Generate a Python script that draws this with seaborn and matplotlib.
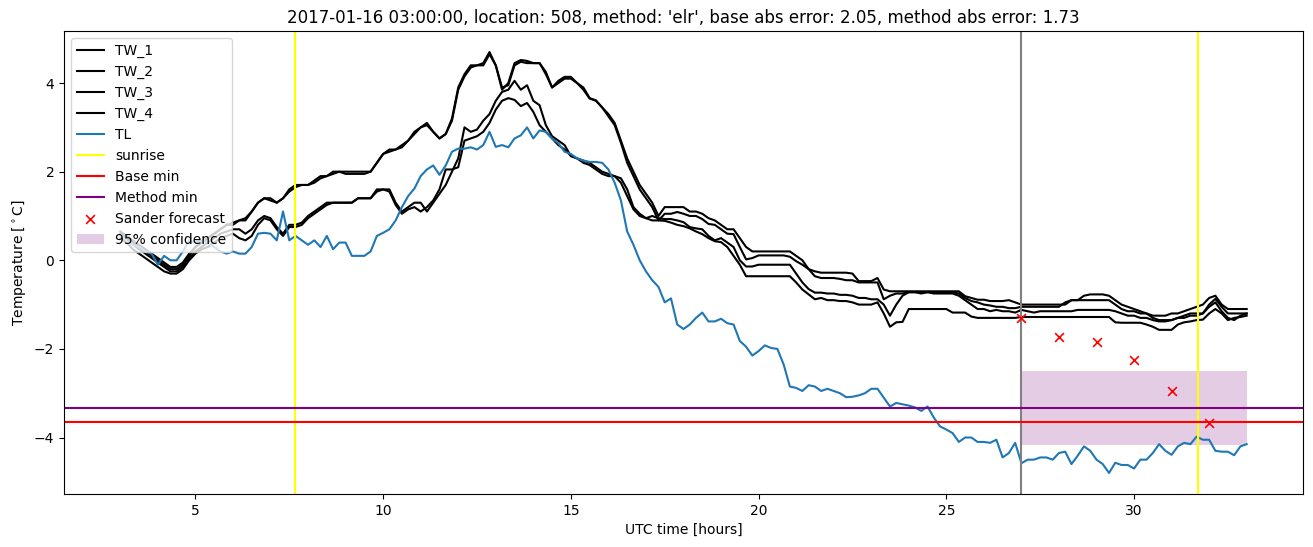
import numpy as np
import matplotlib
matplotlib.use("Agg")
import matplotlib.pyplot as plt
import seaborn as sns

# ---- data (10-minute steps from 03:00 to 33:00 UTC hours) ----
start_hour = 3.0
step_hours = 1.0 / 6.0

TW_1 = [
    0.6, 0.5, 0.4, 0.3, 0.2, 0.1,          # 3
    0.0, -0.1, -0.2, -0.2, -0.1, 0.1,      # 4
    0.3, 0.4, 0.5, 0.6, 0.7, 0.8,          # 5
    0.8, 0.9, 0.9, 1.1, 1.3, 1.4,          # 6
    1.4, 1.3, 1.4, 1.6, 1.7, 1.7,          # 7
    1.7, 1.8, 1.9, 1.9, 2.0, 2.0,          # 8
    2.0, 2.0, 2.0, 2.0, 2.0, 2.2,          # 9
    2.4, 2.5, 2.5, 2.6, 2.7, 2.9,          # 10
    3.0, 3.1, 2.9, 2.75, 2.85, 3.2,        # 11
    3.9, 4.2, 4.4, 4.4, 4.45, 4.7,         # 12
    4.4, 3.85, 4.0, 4.45, 4.52, 4.5,       # 13
    4.45, 4.45, 4.2, 3.9, 4.05, 4.14,      # 14
    4.14, 4.0, 3.9, 3.66, 3.61, 3.45,      # 15
    3.3, 3.1, 2.7, 2.3, 2.0, 1.7,          # 16
    1.5, 1.3, 1.0, 1.2, 1.2, 1.2,          # 17
    1.2, 1.1, 1.1, 1.05, 0.95, 0.9,        # 18
    0.8, 0.7, 0.7, 0.5, 0.3, 0.2,          # 19
    0.2, 0.2, 0.2, 0.2, 0.2, 0.2,          # 20
    0.1, 0.0, -0.2, -0.25, -0.28, -0.28,   # 21
    -0.28, -0.28, -0.28, -0.3, -0.47, -0.47,  # 22
    -0.47, -0.4, -0.66, -0.7, -0.7, -0.7,  # 23
    -0.7, -0.7, -0.7, -0.7, -0.7, -0.7,    # 24
    -0.7, -0.7, -0.7, -0.81, -0.85, -0.89, # 25
    -0.89, -0.92, -0.92, -0.92, -0.9, -0.95,  # 26
    -1.0, -1.0, -1.0, -1.0, -1.0, -1.0,    # 27
    -1.0, -1.0, -0.9, -0.9, -0.8, -0.77,   # 28
    -0.77, -0.77, -0.8, -0.9, -1.0, -1.05, # 29
    -1.1, -1.15, -1.2, -1.25, -1.25, -1.25,  # 30
    -1.2, -1.2, -1.15, -1.1, -1.05, -1.0,  # 31
    -0.85, -0.8, -1.0, -1.1, -1.1, -1.1,   # 32
    -1.1,                                   # 33
]

TW_2 = [
    0.65, 0.55, 0.45, 0.35, 0.25, 0.15,
    0.05, -0.05, -0.15, -0.15, -0.05, 0.15,
    0.3, 0.4, 0.5, 0.6, 0.7, 0.8,
    0.85, 0.9, 0.95, 1.1, 1.3, 1.4,
    1.35, 1.3, 1.4, 1.55, 1.65, 1.7,
    1.7, 1.75, 1.85, 1.9, 1.95, 2.0,
    1.95, 1.95, 1.95, 1.95, 2.0, 2.2,
    2.4, 2.45, 2.5, 2.55, 2.7, 2.85,
    3.0, 3.05, 2.9, 2.75, 2.85, 3.15,
    3.85, 4.15, 4.35, 4.4, 4.4, 4.65,
    4.4, 3.9, 3.95, 4.4, 4.48, 4.45,
    4.45, 4.45, 4.25, 3.9, 4.0, 4.1,
    4.1, 4.0, 3.85, 3.65, 3.6, 3.45,
    3.25, 3.05, 2.65, 2.2, 1.9, 1.6,
    1.4, 1.2, 0.9, 1.05, 1.05, 1.09,
    1.05, 1.0, 1.0, 0.93, 0.82, 0.8,
    0.7, 0.6, 0.59, 0.3, 0.02, 0.05,
    0.11, 0.11, 0.11, 0.11, 0.11, 0.08,
    -0.02, -0.1, -0.2, -0.36, -0.4, -0.4,
    -0.4, -0.42, -0.45, -0.45, -0.5, -0.5,
    -0.5, -0.5, -0.88, -0.8, -0.75, -0.75,
    -0.72, -0.72, -0.72, -0.72, -0.72, -0.72,
    -0.72, -0.72, -0.75, -0.85, -0.92, -0.95,
    -1.0, -1.02, -1.05, -1.05, -1.08, -1.08,
    -1.05, -1.05, -1.05, -1.05, -1.05, -1.05,
    -1.05, -0.95, -0.9, -0.9, -0.9, -0.9,
    -0.9, -0.9, -0.9, -1.0, -1.1, -1.15,
    -1.15, -1.2, -1.2, -1.3, -1.35, -1.35,
    -1.35, -1.3, -1.25, -1.2, -1.2, -1.2,
    -1.0, -0.87, -1.05, -1.2, -1.2, -1.2,
    -1.2,
]

TW_3 = [
    0.6, 0.5, 0.35, 0.25, 0.15, 0.05,
    -0.05, -0.15, -0.25, -0.25, -0.15, 0.05,
    0.2, 0.3, 0.4, 0.5, 0.6, 0.65,
    0.7, 0.7, 0.6, 0.7, 0.9, 1.0,
    0.95, 0.75, 0.6, 0.8, 0.8, 0.85,
    1.0, 1.1, 1.2, 1.3, 1.3, 1.3,
    1.3, 1.3, 1.4, 1.4, 1.4, 1.6,
    1.6, 1.6, 1.3, 1.1, 1.2, 1.3,
    1.3, 1.1, 1.3, 1.5, 1.7, 2.0,
    2.3, 3.0, 2.9, 2.95, 3.15, 3.3,
    3.6, 3.8, 3.85, 4.05, 3.85, 3.95,
    3.6, 3.5, 3.05, 2.8, 2.7, 2.6,
    2.35, 2.3, 2.25, 2.2, 2.1, 2.0,
    1.95, 1.9, 1.85, 1.6, 1.2, 1.05,
    0.95, 1.0, 0.95, 0.93, 0.93, 0.9,
    0.86, 0.75, 0.72, 0.7, 0.55, 0.45,
    0.5, 0.4, 0.3, 0.0, -0.14, -0.14,
    -0.1, -0.1, -0.1, -0.1, -0.1, -0.1,
    -0.3, -0.5, -0.65, -0.73, -0.73, -0.75,
    -0.75, -0.78, -0.78, -0.8, -0.85, -0.85,
    -0.88, -0.88, -1.0, -1.25, -1.0, -0.8,
    -0.72, -0.72, -0.75, -0.72, -0.75, -0.75,
    -0.75, -0.75, -0.8, -0.9, -1.0, -1.1,
    -1.1, -1.15, -1.12, -1.15, -1.15, -1.18,
    -1.12, -1.15, -1.18, -1.15, -1.15, -1.15,
    -1.15, -1.15, -1.15, -1.12, -1.12, -1.12,
    -1.12, -1.12, -1.12, -1.15, -1.2, -1.25,
    -1.25, -1.3, -1.3, -1.35, -1.38, -1.38,
    -1.35, -1.3, -1.3, -1.25, -1.25, -1.2,
    -1.05, -0.95, -1.15, -1.3, -1.35, -1.25,
    -1.2,
]

TW_4 = [
    0.5, 0.4, 0.25, 0.15, 0.05, -0.05,
    -0.15, -0.25, -0.3, -0.3, -0.2, 0.0,
    0.15, 0.25, 0.3, 0.4, 0.5, 0.55,
    0.6, 0.5, 0.45, 0.55, 0.8, 0.95,
    0.9, 0.7, 0.55, 0.75, 0.75, 0.8,
    0.95, 1.05, 1.15, 1.25, 1.3, 1.3,
    1.3, 1.3, 1.4, 1.4, 1.4, 1.55,
    1.6, 1.55, 1.25, 1.05, 1.15, 1.2,
    1.1, 1.2, 1.35, 1.6, 2.05, 2.05,
    2.1, 2.7, 2.75, 2.8, 2.9, 3.1,
    3.4, 3.6, 3.66, 3.62, 3.48, 3.55,
    3.35, 3.05, 2.9, 2.75, 2.6, 2.5,
    2.36, 2.3, 2.2, 2.15, 2.05, 1.95,
    1.9, 1.9, 1.75, 1.45, 1.15, 1.0,
    0.95, 0.9, 0.9, 0.89, 0.85, 0.8,
    0.77, 0.72, 0.65, 0.59, 0.5, 0.43,
    0.41, 0.3, 0.1, -0.1, -0.36, -0.36,
    -0.36, -0.36, -0.36, -0.36, -0.36, -0.36,
    -0.5, -0.66, -0.77, -0.88, -0.85, -0.9,
    -0.9, -0.92, -0.92, -0.95, -1.0, -1.0,
    -1.0, -0.95, -1.2, -1.5, -1.4, -1.39,
    -1.1, -1.1, -1.1, -1.1, -1.1, -1.1,
    -1.1, -1.18, -1.18, -1.18, -1.27, -1.3,
    -1.3, -1.3, -1.3, -1.3, -1.3, -1.3,
    -1.28, -1.28, -1.28, -1.28, -1.28, -1.28,
    -1.28, -1.28, -1.28, -1.28, -1.28, -1.28,
    -1.28, -1.28, -1.28, -1.4, -1.41, -1.41,
    -1.41, -1.41, -1.45, -1.5, -1.57, -1.57,
    -1.57, -1.45, -1.4, -1.38, -1.35, -1.34,
    -1.2, -1.1, -1.2, -1.35, -1.3, -1.28,
    -1.25,
]

TL = [
    0.55, 0.45, 0.35, 0.3, 0.2, 0.15,
    -0.1, 0.1, 0.0, 0.0, 0.2, 0.45,
    0.4, 0.45, 0.4, 0.3, 0.2, 0.15,
    0.2, 0.15, 0.15, 0.3, 0.6, 0.62,
    0.6, 0.45, 1.1, 0.45, 0.55, 0.45,
    0.35, 0.45, 0.3, 0.55, 0.25, 0.4,
    0.4, 0.1, 0.1, 0.1, 0.2, 0.55,
    0.62, 0.7, 0.9, 1.2, 1.45, 1.62,
    1.9, 2.05, 2.14, 1.93, 2.14, 2.45,
    2.52, 2.52, 2.55, 2.5, 2.6, 2.9,
    2.56, 2.6, 2.55, 2.75, 2.82, 3.0,
    2.75, 2.93, 2.9, 2.75, 2.64, 2.45,
    2.4, 2.3, 2.25, 2.22, 2.22, 2.2,
    2.05, 1.75, 1.35, 0.65, 0.35, 0.0,
    -0.25, -0.45, -0.6, -0.95, -0.86, -1.45,
    -1.55, -1.45, -1.3, -1.18, -1.38, -1.38,
    -1.32, -1.42, -1.45, -1.82, -1.95, -2.15,
    -2.05, -1.92, -1.98, -2.0, -2.35, -2.85,
    -2.88, -2.95, -2.82, -2.85, -2.95, -2.9,
    -2.95, -3.0, -3.09, -3.08, -3.05, -3.0,
    -2.9, -2.9, -3.1, -3.3, -3.22, -3.25,
    -3.28, -3.32, -3.4, -3.3, -3.55, -3.75,
    -3.82, -3.9, -4.1, -4.0, -4.0, -4.1,
    -4.1, -4.12, -4.05, -4.45, -4.35, -4.12,
    -4.58, -4.5, -4.5, -4.45, -4.45, -4.5,
    -4.35, -4.32, -4.6, -4.41, -4.2, -4.3,
    -4.5, -4.6, -4.8, -4.57, -4.62, -4.62,
    -4.7, -4.5, -4.5, -4.35, -4.15, -4.3,
    -4.39, -4.2, -4.12, -4.15, -3.98, -4.05,
    -4.05, -4.3, -4.32, -4.32, -4.4, -4.2,
    -4.15,
]

sunrise_hours = [7.65, 31.7]
forecast_start = 27.0
base_min = -3.66
method_min = -3.33
sander_hours = [27, 28, 29, 30, 31, 32]
sander_values = [-1.3, -1.73, -1.85, -2.25, -2.96, -3.67]
conf_hours = [27.0, 33.0]
conf_low = -4.16
conf_high = -2.5

title = ("2017-01-16 03:00:00, location: 508, method: 'elr', "
         "base abs error: 2.05, method abs error: 1.73")

# ---- plot ----
fig = plt.figure(figsize=(13.13, 5.47), dpi=100)
ax = fig.add_axes([64 / 1313, 1 - 494 / 547, (1303 - 64) / 1313, (494 - 31) / 547])

def hours_for(values):
    return start_hour + np.arange(len(values)) * step_hours

for name, vals in [("TW_1", TW_1), ("TW_2", TW_2), ("TW_3", TW_3), ("TW_4", TW_4)]:
    sns.lineplot(x=hours_for(vals), y=vals, color="black", label=name, ax=ax,
                 linewidth=1.5)
sns.lineplot(x=hours_for(TL), y=TL, color="C0", label="TL", ax=ax, linewidth=1.5)

for i, h in enumerate(sunrise_hours):
    ax.axvline(h, color="yellow", label="sunrise" if i == 0 else "_nolegend_")
ax.axvline(forecast_start, color="grey")
ax.axhline(base_min, color="red", label="Base min")
ax.axhline(method_min, color="purple", label="Method min")

sns.scatterplot(x=sander_hours, y=sander_values, marker="x", color="red",
                s=40, linewidth=1.2, label="Sander forecast", ax=ax, zorder=3)
ax.fill_between(conf_hours, conf_low, conf_high, color="purple", alpha=0.2,
                linewidth=0, label="95% confidence")

ax.set_title(title)
ax.set_xlabel("UTC time [hours]")
ax.set_ylabel(r"Temperature [$^\circ$C]")
ax.legend(loc="upper left")

fig.savefig("out.png", dpi=100)
